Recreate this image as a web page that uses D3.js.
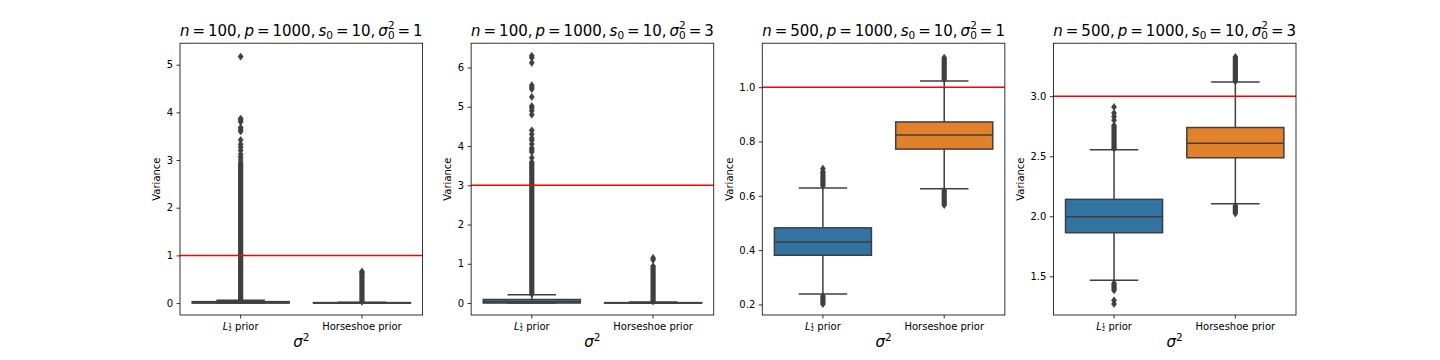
<!DOCTYPE html>
<html lang="en">
<head>
<meta charset="utf-8" />
<title>Variance boxplots</title>
<script src="https://cdnjs.cloudflare.com/ajax/libs/d3/7.8.5/d3.min.js"></script>
<style>
  body { margin: 0; background: #fff; }
  svg text { font-family: "DejaVu Sans", sans-serif; fill: #000; white-space: pre; }
</style>
</head>
<body>
<svg id="chart" width="1440" height="360"></svg>
<script>
// ---- data ----
const categories = ["L12", "Horseshoe"];
const nValues = [100, 100, 500, 500];
const pValue = 1000;
const s0Value = 10;
const sigma0sq = [1, 3, 1, 3];   // also the red reference line

const yDomains = [[-0.25, 5.45], [-0.305, 6.62], [0.161, 1.162], [1.178, 3.441]];
const yTicks = [[0, 1, 2, 3, 4, 5], [0, 1, 2, 3, 4, 5, 6], [0.2, 0.4, 0.6, 0.8, 1.0], [1.5, 2.0, 2.5, 3.0]];
const yFormats = ["d", "d", ".1f", ".1f"];

// box stats per panel: [L1/2, Horseshoe]
const q1 = [[0.0, 0.0], [0.0, 0.0], [0.381, 0.772], [1.863, 2.487]];
const median = [[0.01, 0.003], [0.03, 0.004], [0.430, 0.824], [1.996, 2.609]];
const q3 = [[0.03, 0.01], [0.09, 0.01], [0.482, 0.872], [2.141, 2.739]];
const whiskLo = [[0.0, 0.0], [0.0, 0.0], [0.238, 0.626], [1.467, 2.104]];
const whiskHi = [[0.057, 0.02], [0.21, 0.025], [0.629, 1.023], [2.553, 3.117]];

// runs of outliers so dense the markers merge into a column: [lo, hi]
const denseRuns = [
  [[[0.06, 2.95]], [[0.022, 0.62]]],
  [[[0.22, 3.6]], [[0.03, 0.95]]],
  [[[0.2, 0.232], [0.636, 0.69]], [[0.565, 0.62], [1.028, 1.11]]],
  [[[1.38, 1.445], [2.56, 2.76]], [[2.02, 2.09], [3.12, 3.33]]]
];
// separate outlier points
const sparse = [
  [[3.0, 3.06, 3.12, 3.2, 3.27, 3.33, 3.42, 3.6, 3.64, 3.68, 3.8, 3.84, 3.87, 5.17], [0.64, 0.66]],
  [[3.7, 3.85, 3.9, 3.95, 4.05, 4.15, 4.2, 4.3, 4.4, 4.8, 4.9, 4.97, 5.02, 5.25, 5.45, 5.5, 5.55, 6.12, 6.25, 6.3], [1.1, 1.15]],
  [[0.70], []],
  [[1.27, 1.3, 2.8, 2.83, 2.86, 2.91], []]
];

const boxColors = ["#3274a1", "#e1812c"];
const gray = "#3f3f3f";

// ---- layout ----
const svg = d3.select("#chart");
const figLeft = 180, figRight = 1296, axTop = 43.2, axBottom = 315;
const axW = (figRight - figLeft) / (4 + 3 * 0.2);
const gapW = axW * 0.2;
const axH = axBottom - axTop;
const thin = "\u2009";

// writes math-like pieces as tspans; fs = size factor, off = baseline offset (in em)
function addMath(text, parts, size) {
  let shift = 0, prevW = 0;
  parts.forEach(p => {
    const ts = text.append("tspan").text(p.t);
    let off = 0, fs = 1;
    if (p.sub) { off = 0.22; fs = 0.7; }
    if (p.sup) { off = -0.42; fs = 0.7; }
    if (p.fs !== undefined) fs = p.fs;
    if (p.off !== undefined) off = p.off;
    const target = off * size;
    ts.attr("font-size", fs * size).attr("dy", target - shift);
    shift = target;
    if (p.it) ts.attr("font-style", "italic");
    if (p.back) ts.attr("dx", -prevW);
    prevW = ts.node().getComputedTextLength();
  });
}

const diamond = (cx, cy) => `M${cx},${cy - 3.6}L${cx + 2.6},${cy}L${cx},${cy + 3.6}L${cx - 2.6},${cy}Z`;

nValues.forEach((n, i) => {
  const x0 = figLeft + i * (axW + gapW);
  const g = svg.append("g").attr("transform", `translate(${x0},${axTop})`);

  const x = d3.scaleBand().domain(categories).range([0, axW]);
  const y = d3.scaleLinear().domain(yDomains[i]).range([axH, 0]);
  const bw = x.bandwidth() * 0.8;

  const clipId = "clip" + i;
  g.append("clipPath").attr("id", clipId)
    .append("rect").attr("width", axW).attr("height", axH);
  const plot = g.append("g").attr("clip-path", `url(#${clipId})`);

  categories.forEach((c, k) => {
    const cx = x(c) + x.bandwidth() / 2;
    const b = plot.append("g");

    // whiskers
    b.append("line").attr("x1", cx).attr("x2", cx)
      .attr("y1", y(q3[i][k])).attr("y2", y(whiskHi[i][k]))
      .attr("stroke", gray).attr("stroke-width", 1.5);
    b.append("line").attr("x1", cx).attr("x2", cx)
      .attr("y1", y(q1[i][k])).attr("y2", y(whiskLo[i][k]))
      .attr("stroke", gray).attr("stroke-width", 1.5);

    // box
    b.append("rect")
      .attr("x", cx - bw / 2).attr("width", bw)
      .attr("y", y(q3[i][k])).attr("height", Math.max(0.5, y(q1[i][k]) - y(q3[i][k])))
      .attr("fill", boxColors[k]).attr("stroke", gray).attr("stroke-width", 1.5);
    b.append("line")
      .attr("x1", cx - bw / 2).attr("x2", cx + bw / 2)
      .attr("y1", y(median[i][k])).attr("y2", y(median[i][k]))
      .attr("stroke", gray).attr("stroke-width", 1.5);

    // caps
    [whiskLo[i][k], whiskHi[i][k]].forEach(v => {
      b.append("line")
        .attr("x1", cx - bw / 4).attr("x2", cx + bw / 4)
        .attr("y1", y(v)).attr("y2", y(v))
        .attr("stroke", gray).attr("stroke-width", 1.5);
    });

    // outliers
    denseRuns[i][k].forEach(([lo, hi]) => {
      b.append("rect")
        .attr("x", cx - 2.6).attr("width", 5.2)
        .attr("y", y(hi)).attr("height", y(lo) - y(hi))
        .attr("fill", gray);
      b.append("path").attr("d", diamond(cx, y(hi))).attr("fill", gray);
      b.append("path").attr("d", diamond(cx, y(lo))).attr("fill", gray);
    });
    b.selectAll(".flier").data(sparse[i][k]).join("path")
      .attr("class", "flier")
      .attr("d", v => diamond(cx, y(v)))
      .attr("fill", gray).attr("stroke", gray).attr("stroke-width", 0.5);
  });

  // reference line for the true variance
  plot.append("line")
    .attr("x1", 0).attr("x2", axW)
    .attr("y1", y(sigma0sq[i])).attr("y2", y(sigma0sq[i]))
    .attr("stroke", "red").attr("stroke-width", 1.5);

  // frame
  g.append("rect").attr("width", axW).attr("height", axH)
    .attr("fill", "none").attr("stroke", "#000").attr("stroke-width", 0.8);

  // y axis
  const yAxis = g.append("g")
    .call(d3.axisLeft(y).tickValues(yTicks[i]).tickSize(3.5).tickPadding(3.5)
      .tickFormat(d3.format(yFormats[i])));
  yAxis.select(".domain").remove();
  yAxis.selectAll("line").attr("stroke", "#000").attr("stroke-width", 0.8);
  yAxis.selectAll("text").attr("font-size", 10).attr("font-family", "DejaVu Sans");
  let maxW = 0;
  yAxis.selectAll("text").each(function () { maxW = Math.max(maxW, this.getComputedTextLength()); });

  // x axis
  const xAxis = g.append("g").attr("transform", `translate(0,${axH})`)
    .call(d3.axisBottom(x).tickSize(3.5).tickFormat(""));
  xAxis.select(".domain").remove();
  xAxis.selectAll("line").attr("stroke", "#000").attr("stroke-width", 0.8);

  const c0 = x(categories[0]) + x.bandwidth() / 2;
  const c1 = x(categories[1]) + x.bandwidth() / 2;
  const l12 = g.append("text").attr("x", c0).attr("y", axH + 15).attr("text-anchor", "middle");
  addMath(l12, [
    { t: "L", it: true },
    { t: "1", fs: 0.55, off: -0.25 },
    { t: "2", fs: 0.55, off: 0.15, back: true },
    { t: " prior", fs: 1, off: 0 }
  ], 10);
  g.append("text").attr("x", c1).attr("y", axH + 15).attr("text-anchor", "middle")
    .attr("font-size", 10).text("Horseshoe prior");

  // axis labels
  const xl = g.append("text").attr("x", axW / 2).attr("y", axH + 32).attr("text-anchor", "middle");
  addMath(xl, [{ t: "σ", it: true }, { t: "2", sup: true }], 15);

  const ylx = -7 - maxW - 4 - 2.4;
  g.append("text").attr("transform", `translate(${ylx},${axH / 2}) rotate(-90)`)
    .attr("text-anchor", "middle").attr("font-size", 10).text("Variance");

  // title
  const eq = thin + "=" + thin;
  const t = g.append("text").attr("x", axW / 2).attr("y", -7.5).attr("text-anchor", "middle");
  addMath(t, [
    { t: "n", it: true }, { t: eq + n + "," + thin },
    { t: "p", it: true }, { t: eq + pValue + "," + thin },
    { t: "s", it: true }, { t: "0", sub: true }, { t: eq + s0Value + "," + thin },
    { t: "σ", it: true }, { t: "0", sub: true }, { t: "2", sup: true, back: true },
    { t: eq + sigma0sq[i] }
  ], 15);
});
</script>
</body>
</html>
